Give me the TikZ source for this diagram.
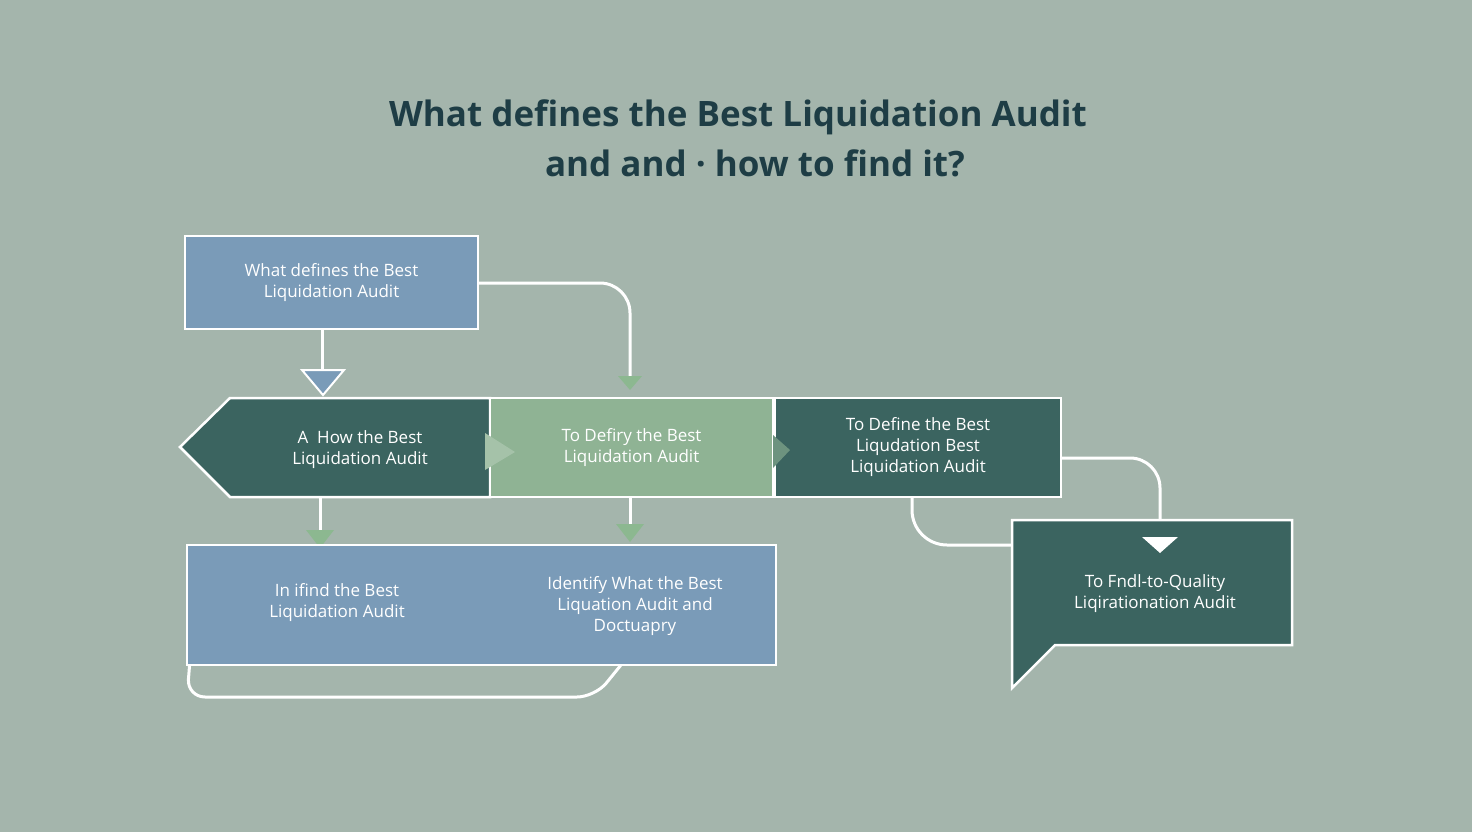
\documentclass[tikz,border=0pt]{standalone}
\usepackage{fontspec}
\setmainfont{Open Sans}
\usetikzlibrary{arrows.meta}
\definecolor{bg}{HTML}{A4B5AC}
\definecolor{ttl}{HTML}{1E3D45}
\definecolor{bluef}{HTML}{7A9BB8}
\definecolor{teal}{HTML}{3B6460}
\definecolor{greenf}{HTML}{8FB394}
\definecolor{tipg}{HTML}{8CB890}
\tikzset{
  boxs/.style={draw=white, line width=2.5pt},
  lbl/.style={text=white, font=\fontsize{17}{21}\selectfont, align=center},
  con/.style={draw=white, line width=3pt, rounded corners=30pt},
  gtip/.style={fill=tipg, draw=none},
}
\begin{document}
\begin{tikzpicture}[x=1pt,y=-1pt]
\fill[bg] (0,0) rectangle (1472,832);
\useasboundingbox (0,0) rectangle (1472,832);
\node[text=ttl, font=\fontsize{35}{40}\selectfont\bfseries] (t1) at (738,117) {What defines the Best Liquidation Audit};
\node[text=ttl, font=\fontsize{35}{40}\selectfont\bfseries] (t2) at (755,163) {and and · how to find it?};
% connectors top
\coordinate (c1) at (630,385);
\draw[con] (478,283) -- (630,283) -- (c1);
\draw[white, line width=3pt] (322,329) -- (322,375);
\fill[gtip] (618,376) -- (642,376) -- (630,390) -- cycle;
% box1
\node[boxs, fill=bluef, minimum width=293pt, minimum height=93pt, lbl] (b1) at (331.5,282.5) {What defines the Best\\Liquidation Audit};
\draw[white, line width=2pt, fill=bluef] (302,370) -- (344,370) -- (323,395) -- cycle;
% middle row
\draw[boxs, fill=teal] (180,447) -- (230,398) -- (490,398) -- (490,497) -- (230,497) -- cycle;
\node[lbl] (m1) at (360,450) {A\ \ How the Best\\Liquidation Audit};
\node[boxs, fill=greenf, minimum width=283pt, minimum height=99pt, lbl] (m2) at (631.5,447.5) {To Defiry the Best\\Liquidation Audit};
\node[boxs, fill=teal, minimum width=286pt, minimum height=99pt, lbl] (m3) at (918,447.5) {To Define the Best\\Liqudation Best\\Liquidation Audit};
\fill[greenf!80!white] (485,433) -- (515,452) -- (485,470) -- cycle;
\fill[greenf!60!teal] (773,435) -- (790,450) -- (773,468) -- cycle;
% down connectors
\draw[white, line width=3pt] (320,497) -- (320,532);
\draw[white, line width=3pt] (630,497) -- (630,527);
\fill[gtip] (306,530) -- (334,530) -- (320,548) -- cycle;
\fill[gtip] (616,524) -- (644,524) -- (630,542) -- cycle;
% bottom loop
\draw[con, rounded corners=18pt] (190,660) -- (187,697) -- (595,697) -- (625,660);
\node[boxs, fill=bluef, minimum width=589pt, minimum height=120pt] (b2) at (481.5,605) {};
\node[lbl] (b2a) at (337,603) {In ifind the Best\\Liquidation Audit};
\node[lbl] (b2b) at (635,606) {Identify What the Best\\Liquation Audit and\\Doctuapry};
% right connectors
\draw[con] (1061,458) -- (1160,458) -- (1160,540);
\draw[con, rounded corners=35pt] (912,497) -- (912,545) -- (1020,545);
% speech bubble
\draw[boxs, fill=teal] (1012,520) -- (1292,520) -- (1292,645) -- (1055,645) -- (1012,688) -- cycle;
\node[lbl] (sp) at (1155,594) {To Fndl-to-Quality\\Liqirationation Audit};
\fill[white] (1142,537) -- (1178,537) -- (1160,553) -- cycle;
\end{tikzpicture}
\end{document}
